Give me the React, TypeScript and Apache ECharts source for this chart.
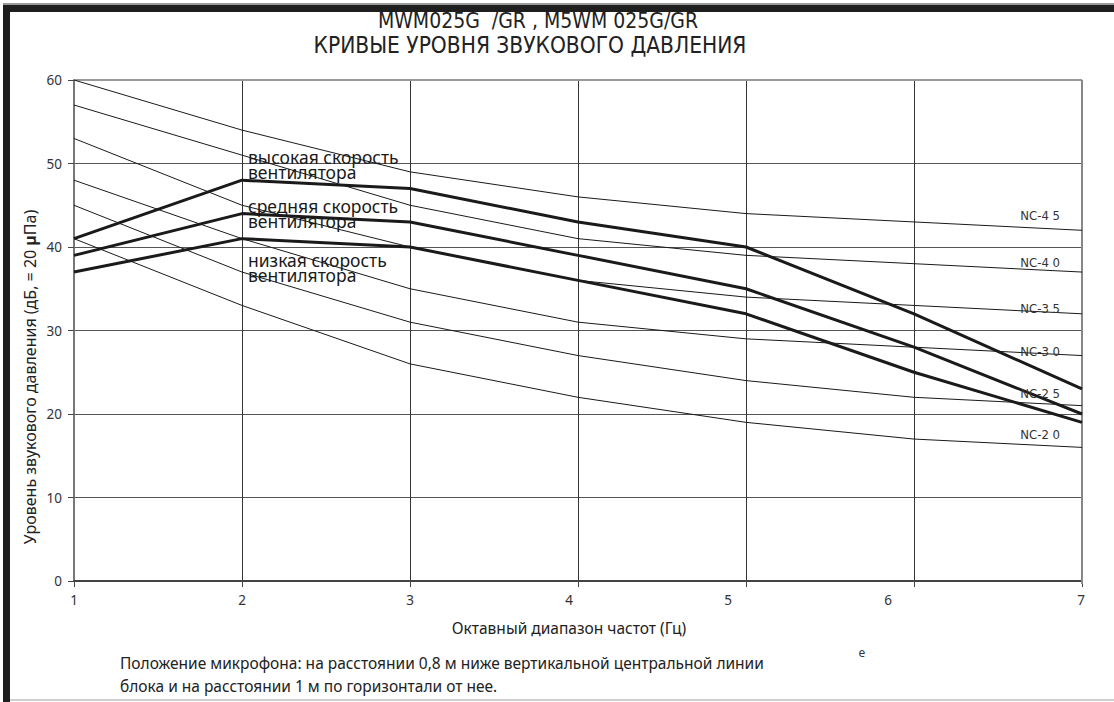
import React, { useEffect, useRef } from "react";
import * as echarts from "echarts";

const xValues = [1, 2, 3, 4, 5, 6, 7];
const yTicks = [0, 10, 20, 30, 40, 50, 60];

const nc45 = [60, 54, 49, 46, 44, 43, 42];
const nc40 = [57, 51, 45, 41, 39, 38, 37];
const nc35 = [53, 45, 40, 36, 34, 33, 32];
const nc30 = [48, 41, 35, 31, 29, 28, 27];
const nc25 = [45, 37, 31, 27, 24, 22, 21];
const nc20 = [41, 33, 26, 22, 19, 17, 16];

const highSpeed = [41, 48, 47, 43, 40, 32, 23];
const mediumSpeed = [39, 44, 43, 39, 35, 28, 20];
const lowSpeed = [37, 41, 40, 36, 32, 25, 19];

const ncLabels = ["NC-4 5", "NC-4 0", "NC-3 5", "NC-3 0", "NC-2 5", "NC-2 0"];
const fanLabels = [
  "высокая скорость\nвентилятора",
  "средняя скорость\nвентилятора",
  "низкая скорость\nвентилятора",
];

const titleLines = ["MWM025G  /GR , M5WM 025G/GR", "КРИВЫЕ УРОВНЯ ЗВУКОВОГО ДАВЛЕНИЯ"];
const xAxisName = "Октавный диапазон частот (Гц)";
const noteLines = [
  "Положение микрофона: на расстоянии 0,8 м ниже вертикальной центральной линии",
  "блока и на расстоянии 1 м по горизонтали от нее.",
];

const FONT = "'Noto Sans', 'Open Sans', sans-serif";
const TFONT = "'Liberation Sans Narrow', 'DejaVu Sans Condensed', 'Noto Sans', sans-serif";

const toPairs = (arr: number[]) => arr.map((v, i) => [xValues[i], v]);

// small per-label horizontal offsets of the x tick labels (px to the left)
const xLabelShift: Record<number, number> = { 1: 0, 2: 0, 3: 0, 4: 9, 5: 18, 6: 26, 7: 1 };

export default function App() {
  const ref = useRef<HTMLDivElement>(null);

  useEffect(() => {
    if (!ref.current) return;
    const chart = echarts.init(ref.current, undefined, { renderer: "svg" });

    const rich: Record<string, any> = {};
    xValues.forEach((v) => {
      rich["l" + v] = {
        fontSize: 13.5,
        fontFamily: FONT,
        color: "#333",
        padding: [0, xLabelShift[v] * 2, 0, 0],
      };
    });

    const ncSeries = [nc45, nc40, nc35, nc30, nc25, nc20].map((d, i) => ({
      type: "line",
      name: ncLabels[i],
      data: toPairs(d),
      symbol: "none",
      lineStyle: { color: "#1a1a1a", width: 1 },
      silent: true,
      z: 3,
    }));
    const fanSeries = [highSpeed, mediumSpeed, lowSpeed].map((d, i) => ({
      type: "line",
      name: fanLabels[i],
      data: toPairs(d),
      symbol: "none",
      lineStyle: { color: "#1a1a1a", width: 3 },
      silent: true,
      z: 4,
    }));

    const ncY = [215, 262, 308, 351, 393, 434];
    const fanY = [149, 198, 252];

    const option: any = {
      animation: false,
      backgroundColor: "#ffffff",
      grid: { left: 74, right: 32, top: 80, bottom: 121 },
      xAxis: {
        type: "value",
        min: 1,
        max: 7,
        interval: 1,
        axisLine: { show: true, onZero: false, lineStyle: { color: "#444", width: 2 } },
        axisTick: { show: true, length: 6, lineStyle: { color: "#444", width: 1 } },
        axisLabel: {
          margin: 12,
          formatter: (v: number) => `{l${v}|${v}}`,
          rich,
        },
        splitLine: { show: true, lineStyle: { color: "#333", width: 1 } },
      },
      yAxis: {
        type: "value",
        min: 0,
        max: 60,
        interval: 10,
        axisLine: { show: true, lineStyle: { color: "#777", width: 2 } },
        axisTick: { show: true, length: 6, lineStyle: { color: "#444", width: 1 } },
        axisLabel: {
          margin: 12,
          fontSize: 13.5,
          fontFamily: FONT,
          color: "#333",
          formatter: (v: number) => (yTicks.includes(v) ? String(v) : ""),
        },
        splitLine: { show: true, lineStyle: { color: "#555", width: 1 } },
      },
      series: [...ncSeries, ...fanSeries],
      graphic: [
        // page frame
        { type: "rect", z: 100, shape: { x: 3, y: 3, width: 1111, height: 2 }, style: { fill: "#9a9a9a" }, silent: true },
        { type: "rect", z: 100, shape: { x: 3, y: 5, width: 1111, height: 7 }, style: { fill: "#1e1e1e" }, silent: true },
        { type: "rect", z: 100, shape: { x: 3, y: 5, width: 7, height: 697 }, style: { fill: "#1e1e1e" }, silent: true },
        { type: "rect", z: 100, shape: { x: 10, y: 699, width: 1104, height: 2 }, style: { fill: "#cfcfcf" }, silent: true },
        // top and right borders of plot
        { type: "line", shape: { x1: 74, y1: 80, x2: 1082, y2: 80 }, style: { stroke: "#999", lineWidth: 2 }, silent: true, z: 2 },
        { type: "line", shape: { x1: 1082, y1: 80, x2: 1082, y2: 584 }, style: { stroke: "#888", lineWidth: 2 }, silent: true, z: 2 },
        // titles
        {
          type: "text",
          x: 538,
          y: 21,
          style: { text: titleLines[0], fontSize: 21, fontFamily: TFONT, fill: "#222", align: "center", verticalAlign: "middle" },
        },
        {
          type: "text",
          x: 530,
          y: 45,
          style: { text: titleLines[1], fontSize: 22.5, fontFamily: TFONT, fill: "#222", align: "center", verticalAlign: "middle" },
        },
        // y axis name
        {
          type: "text",
          x: 30,
          y: 377,
          rotation: Math.PI / 2,
          style: {
            text: "Уровень звукового давления (дБ, = 20 {b|µ}Па)",
            fontSize: 16,
            fontFamily: FONT,
            fill: "#222",
            align: "center",
            verticalAlign: "middle",
            rich: { b: { fontSize: 16, fontFamily: FONT, fontWeight: "bold", fill: "#222" } },
          },
        },
        // x axis name
        {
          type: "text",
          x: 569,
          y: 628,
          style: { text: xAxisName, fontSize: 15.5, fontFamily: FONT, fill: "#222", align: "center", verticalAlign: "middle" },
        },
        // notes
        {
          type: "text",
          x: 120,
          y: 663,
          style: { text: noteLines[0], fontSize: 15.5, fontFamily: FONT, fill: "#222", align: "left", verticalAlign: "middle" },
        },
        {
          type: "text",
          x: 120,
          y: 686,
          style: { text: noteLines[1], fontSize: 15.5, fontFamily: FONT, fill: "#222", align: "left", verticalAlign: "middle" },
        },
        {
          type: "text",
          x: 862,
          y: 652,
          style: { text: "e", fontSize: 12, fontFamily: FONT, fill: "#333", align: "center", verticalAlign: "middle" },
        },
        // NC labels
        ...ncLabels.map((t, i) => ({
          type: "text",
          x: 1060,
          y: ncY[i],
          z: 10,
          style: { text: t, fontSize: 13, fontFamily: TFONT, fill: "#333", align: "right", verticalAlign: "middle" },
        })),
        // fan labels
        ...fanLabels.map((t, i) => ({
          type: "text",
          x: 248,
          y: fanY[i],
          z: 10,
          style: {
            text: t,
            fontSize: 17.5,
            lineHeight: 15,
            fontFamily: FONT,
            fill: "#1a1a1a",
            align: "left",
            verticalAlign: "top",
          },
        })),
      ],
    };

    chart.setOption(option);
    return () => chart.dispose();
  }, []);

  return (
    <div style={{ position: "absolute", left: 0, top: 0, width: 1114, height: 702, background: "#fff" }}>
      <div ref={ref} style={{ position: "absolute", left: 0, top: 0, width: 1114, height: 702 }} />
    </div>
  );
}
